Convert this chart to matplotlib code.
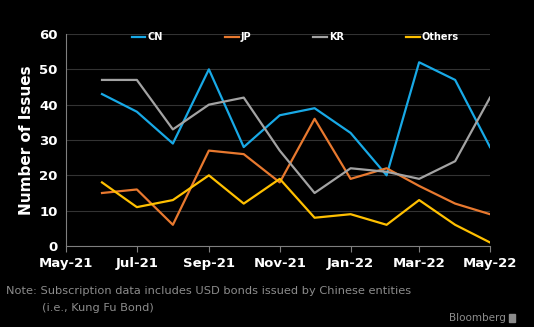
import matplotlib
matplotlib.use('Agg')
import matplotlib.pyplot as plt
import pandas as pd

months = pd.date_range('2021-06-01', '2022-05-01', freq='MS')
cn = [43, 38, 29, 50, 28, 37, 39, 32, 20, 52, 47, 28]
jp = [15, 16, 6, 27, 26, 18, 36, 19, 22, 17, 12, 9]
kr = [47, 47, 33, 40, 42, 27, 15, 22, 21, 19, 24, 42]
others = [18, 11, 13, 20, 12, 19, 8, 9, 6, 13, 6, 1]
tick_dates = pd.date_range('2021-05-01', '2022-05-01', freq='2MS')
tick_labels = [d.strftime('%b-%y') for d in tick_dates]

fig = plt.figure(figsize=(5.34, 3.27), dpi=100, facecolor='black')
ax = fig.add_axes([66 / 534, 1 - 246 / 327, 424 / 534, 212 / 327])
ax.set_facecolor('black')

ax.plot(months, cn, color='#18A9E6', lw=1.6, label='CN')
ax.plot(months, jp, color='#E8792F', lw=1.6, label='JP')
ax.plot(months, kr, color='#A3A3A3', lw=1.6, label='KR')
ax.plot(months, others, color='#FFC000', lw=1.6, label='Others')

ax.set_xlim(tick_dates[0], tick_dates[-1])
ax.set_ylim(0, 60)
ax.set_yticks(range(0, 61, 10))
ax.set_xticks(tick_dates)
ax.set_xticklabels(tick_labels)
ax.grid(axis='y', color='#333333', lw=0.8)
ax.set_axisbelow(True)

for s in ['top', 'right']:
    ax.spines[s].set_visible(False)
for s in ['left', 'bottom']:
    ax.spines[s].set_color('#7f7f7f')
ax.tick_params(axis='x', colors='#7f7f7f', length=4, labelcolor='white', labelsize=9.5, pad=4)
ax.tick_params(axis='y', colors='#7f7f7f', length=0, labelcolor='white', labelsize=9.5, pad=6)
for lab in ax.get_xticklabels() + ax.get_yticklabels():
    lab.set_fontweight('bold')

ax.set_ylabel('Number of Issues', color='white', fontsize=11, fontweight='bold', labelpad=4)

leg = ax.legend(ncol=4, mode='expand', loc='upper left',
                bbox_to_anchor=(0.146, 0.926, 0.79, 0.1), borderaxespad=0,
                frameon=False, handlelength=1.4, handletextpad=0.2,
                prop={'weight': 'bold', 'size': 7})
for t in leg.get_texts():
    t.set_color('white')

fig.text(6 / 534, 1 - 291 / 327, 'Note: Subscription data includes USD bonds issued by Chinese entities',
         color='#8c8c8c', fontsize=8.2, va='center')
fig.text(42 / 534, 1 - 308 / 327, '(i.e., Kung Fu Bond)', color='#8c8c8c', fontsize=8.2, va='center')
fig.text(506 / 534, 1 - 318 / 327, 'Bloomberg', color='#8c8c8c', fontsize=7.5, va='center', ha='right')
fig.patches.append(plt.Rectangle((509 / 534, 1 - 322 / 327), 6 / 534, 8 / 327,
                                 transform=fig.transFigure, color='#8c8c8c', figure=fig))

plt.savefig('out.png', dpi=100, facecolor=fig.get_facecolor())
